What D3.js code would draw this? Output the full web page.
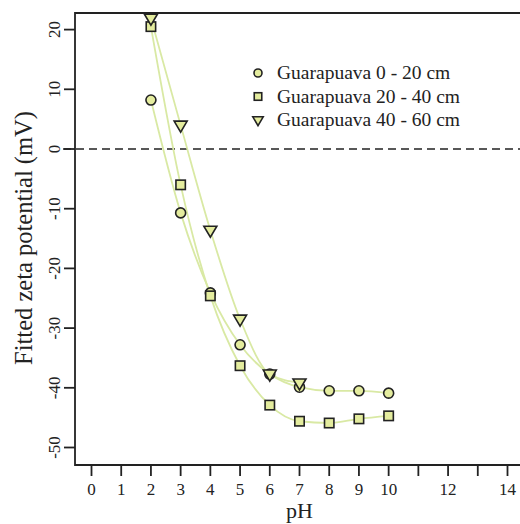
<!DOCTYPE html>
<html>
<head>
<meta charset="utf-8">
<script src="https://cdn.jsdelivr.net/npm/d3@7"></script>
<style>
  body { margin: 0; background: #fff; }
  svg text { font-family: 'Liberation Serif', 'Times New Roman', serif; fill: #222; }
</style>
</head>
<body>
<svg id="chart" width="520" height="524"></svg>
<script>
// pH values and fitted zeta potential (mV)
const phAll = [2, 3, 4, 5, 6, 7, 8, 9, 10]
const zeta0to20 = [8.2, -10.7, -24.1, -32.8, -37.7, -39.9, -40.5, -40.5, -40.9]
const zeta20to40 = [20.5, -6.0, -24.6, -36.3, -42.9, -45.6, -45.9, -45.2, -44.7]
const ph40to60 = [2, 3, 4, 5, 6, 7]
const zeta40to60 = [21.9, 4.0, -13.6, -28.5, -37.7, -39.2]
const seriesNames = ['Guarapuava 0 - 20 cm', 'Guarapuava 20 - 40 cm', 'Guarapuava 40 - 60 cm']
const xTicks = [0, 1, 2, 3, 4, 5, 6, 7, 8, 9, 10, 11, 12, 13, 14]
const xTickLabels = ['0', '1', '2', '3', '4', '5', '6', '7', '8', '9', '10', '', '12', '', '14']
const yTicks = [20, 10, 0, -10, -20, -30, -40, -50]

const svg = d3.select('#chart')
const plotLeft = 75, plotTop = 13, plotBottom = 465

const x = d3.scaleLinear().domain([0, 14]).range([91.5, 507.5])
const y = d3.scaleLinear().domain([0, 20]).range([149, 29.6])

const lineCol = '#d9e9a4'
const fillCol = '#e4ec9e'
const markCol = '#222'

const series = [
  { name: seriesNames[0], xs: phAll, ys: zeta0to20, shape: 'circle' },
  { name: seriesNames[1], xs: phAll, ys: zeta20to40, shape: 'square' },
  { name: seriesNames[2], xs: ph40to60, ys: zeta40to60, shape: 'triangle' }
]

// frame (right side runs off the picture)
svg.append('path')
  .attr('d', `M520,${plotTop}H${plotLeft}V${plotBottom}H520`)
  .attr('fill', 'none').attr('stroke', '#222').attr('stroke-width', 1.8)

// zero line
svg.append('line')
  .attr('x1', 63).attr('x2', 520).attr('y1', y(0)).attr('y2', y(0))
  .attr('stroke', '#222').attr('stroke-width', 1.6).attr('stroke-dasharray', '8,5')

// x axis ticks
const xa = svg.append('g')
xa.selectAll('line').data(xTicks).enter().append('line')
  .attr('x1', d => x(d)).attr('x2', d => x(d))
  .attr('y1', plotBottom).attr('y2', plotBottom + 11)
  .attr('stroke', '#222').attr('stroke-width', 1.8)
xa.selectAll('text').data(xTicks).enter().append('text')
  .attr('x', d => x(d)).attr('y', 495)
  .attr('text-anchor', 'middle').attr('font-size', 17)
  .text((d, i) => xTickLabels[i])
svg.append('text').attr('x', x(7)).attr('y', 518)
  .attr('text-anchor', 'middle').attr('font-size', 22).text('pH')

// y axis ticks
const ya = svg.append('g')
ya.selectAll('line').data(yTicks).enter().append('line')
  .attr('x1', plotLeft).attr('x2', plotLeft - 11)
  .attr('y1', d => y(d)).attr('y2', d => y(d))
  .attr('stroke', '#222').attr('stroke-width', 1.8)
ya.selectAll('text').data(yTicks).enter().append('text')
  .attr('transform', d => `translate(60,${y(d)}) rotate(-90)`)
  .attr('text-anchor', 'middle').attr('font-size', 17)
  .text(d => d)
svg.append('text')
  .attr('transform', `translate(32,238) rotate(-90)`)
  .attr('text-anchor', 'middle').attr('font-size', 24.5)
  .text('Fitted zeta potential (mV)')

// fitted curves
const line = d3.line().x(d => x(d[0])).y(d => y(d[1])).curve(d3.curveMonotoneX)
series.forEach(s => {
  svg.append('path')
    .datum(s.xs.map((v, i) => [v, s.ys[i]]))
    .attr('d', line)
    .attr('fill', 'none').attr('stroke', lineCol).attr('stroke-width', 1.8)
})

// k scales the marker (legend ones are a bit smaller)
const drawMark = (g, shape, cx, cy, k = 1) => {
  if (shape === 'circle') {
    g.append('circle').attr('cx', cx).attr('cy', cy).attr('r', 5 * k)
      .attr('fill', fillCol).attr('stroke', markCol).attr('stroke-width', 1.6)
  } else if (shape === 'square') {
    const h = 4.7 * k
    g.append('rect').attr('x', cx - h).attr('y', cy - h).attr('width', 2 * h).attr('height', 2 * h)
      .attr('fill', fillCol).attr('stroke', markCol).attr('stroke-width', 1.6)
  } else {
    g.append('path').attr('d', `M${cx - 6.5 * k},${cy - 4 * k}L${cx + 6.5 * k},${cy - 4 * k}L${cx},${cy + 7 * k}Z`)
      .attr('fill', fillCol).attr('stroke', markCol).attr('stroke-width', 1.6)
  }
}

const marks = svg.append('g')
series.forEach(s => {
  s.xs.forEach((v, i) => drawMark(marks, s.shape, x(v), y(s.ys[i])))
})

// legend
const lg = svg.append('g')
series.forEach((s, i) => {
  const ly = 73 + i * 23.5
  drawMark(lg, s.shape, 258, ly, 0.8)
  lg.append('text').attr('x', 277).attr('y', ly + 6)
    .attr('font-size', 19.5).text(s.name)
})
</script>
</body>
</html>
